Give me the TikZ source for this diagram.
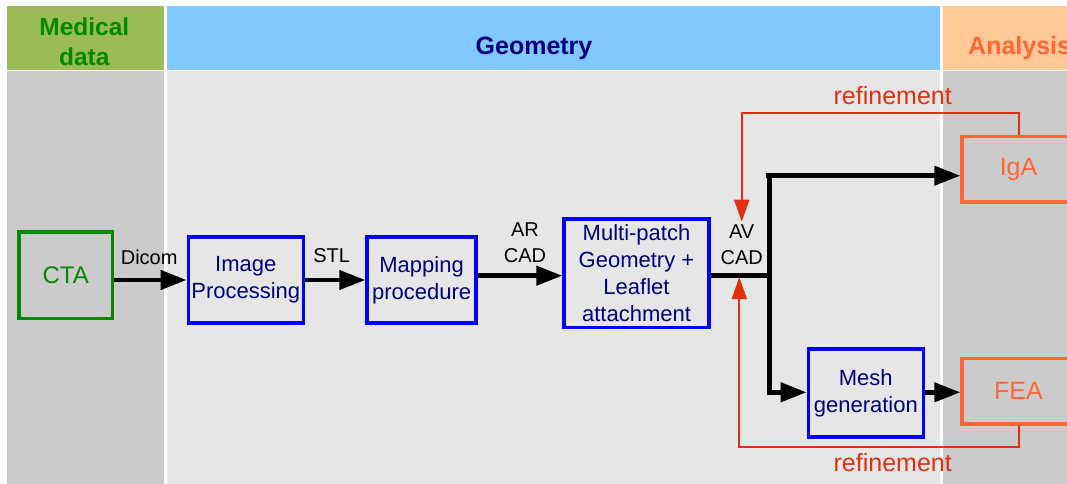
\documentclass[tikz,border=0pt]{standalone}
\usepackage{fontspec}
\setmainfont{Liberation Sans}
\usetikzlibrary{arrows.meta}
\definecolor{medhead}{HTML}{9BBB59}
\definecolor{medtext}{HTML}{008A00}
\definecolor{geohead}{HTML}{80C8FF}
\definecolor{navy}{HTML}{000080}
\definecolor{anahead}{HTML}{FFC896}
\definecolor{orng}{HTML}{FF6633}
\definecolor{refred}{HTML}{E03010}
\definecolor{darkbg}{HTML}{CBCBCB}
\definecolor{lightbg}{HTML}{E6E6E6}
\definecolor{boxblue}{HTML}{0000FF}
\definecolor{ctagreen}{HTML}{008A00}
\begin{document}
\begin{tikzpicture}[x=1pt,y=-1pt,
  procbox/.style={draw=boxblue, line width=3.5pt, text=navy, align=center, font=\fontsize{22}{27}\selectfont, inner sep=0pt},
  anabox/.style={draw=orng, line width=3.5pt, text=orng, font=\fontsize{25}{30}\selectfont, inner sep=0pt, minimum width=113pt, minimum height=65.5pt},
  flow/.style={line width=4.5pt, -{Triangle[length=26pt,width=19pt]}},
  feedback/.style={draw=refred, line width=2pt, -{Triangle[length=22pt,width=15pt]}},
  flowlabel/.style={font=\fontsize{20}{26}\selectfont, align=center, inner sep=0pt},
  reflabel/.style={text=refred, font=\fontsize{25}{30}\selectfont, inner sep=0pt},
  headlabel/.style={font=\bfseries\fontsize{25}{30}\selectfont, inner sep=0pt},
]
\useasboundingbox (0,0) rectangle (1067,484);
\clip (0,0) rectangle (1067,484);
\fill[white] (0,0) rectangle (1067,484);
% column headers and bodies
\fill[medhead] (7,6) rectangle (164,70);
\fill[geohead] (167,6) rectangle (940,70);
\fill[anahead] (943,6) rectangle (1067,70);
\fill[darkbg] (7,71) rectangle (164,484);
\fill[lightbg] (167,71) rectangle (940,484);
\fill[darkbg] (943,71) rectangle (1067,484);
\node[headlabel, text=medtext, align=center, font=\bfseries\fontsize{24.5}{30}\selectfont] (medh) at (84.3,41.3) {Medical\\data};
\node[headlabel, text=navy, anchor=base] (geoh) at (534,55) {Geometry};
\node[headlabel, text=orng, anchor=base west] (anah) at (968,55) {Analysis};
% boxes
\node[draw=ctagreen, line width=3.5pt, text=ctagreen, font=\fontsize{24}{28}\selectfont, minimum width=93.5pt, minimum height=86.7pt, inner sep=0pt] (cta) at (65.7,275.3) {CTA};
\node[procbox, minimum width=115pt, minimum height=85.8pt] (img) at (245.8,280) {Image\\Processing};
\node[procbox, minimum width=109.2pt, minimum height=85.8pt] (map) at (421.6,280) {Mapping\\procedure};
\node[procbox, minimum width=145pt, minimum height=108.3pt] (multi) at (636.5,273.2) {Multi-patch\\Geometry +\\Leaflet\\attachment};
\node[procbox, minimum width=115pt, minimum height=88pt] (mesh) at (865.8,393.2) {Mesh\\generation};
\node[anabox] (iga) at (1018.5,169.2) {IgA};
\node[anabox] (fea) at (1018.5,391) {FEA};
% labels
\node[flowlabel, anchor=base] (dicom) at (149.2,264.3) {Dicom};
\node[flowlabel, anchor=base] (stl) at (331.7,262) {STL};
\node[flowlabel] (arcad) at (525,242.9) {AR\\CAD};
\node[flowlabel] (avcad) at (741.7,245) {AV\\CAD};
\node[reflabel, anchor=base] (ref1) at (892.7,105) {refinement};
\node[reflabel, anchor=base] (ref2) at (892.7,471.7) {refinement};
% junction coordinates
\coordinate (jm) at (769.3,275.7);
\coordinate (jt) at (769.3,175.7);
\coordinate (jb) at (769.3,392.3);
\coordinate (rc1) at (741.7,112.7);
\coordinate (tipt) at (741.7,221.7);
\coordinate (rc2) at (739.3,446.7);
\coordinate (tipb) at (739.3,277);
% feedback connectors
\draw[feedback] (iga.north) |- (rc1) -- (tipt);
\draw[feedback] (fea.south) |- (rc2) -- (tipb);
% flow connectors
\draw[flow] (cta.east |- img.west) -- (img.west);
\draw[flow] (img.east) -- (map.west);
\draw[flow] (map.east |- jm) -- (multi.west |- jm);
\draw[line width=4.5pt] (multi.east |- jm) -- (jm);
\draw[flow] ([xshift=-3.5pt]jt) -- (iga.west |- jt);
\draw[flow] (jt) -- (jb) -- (mesh.west |- jb);
\draw[flow] (mesh.east |- jb) -- (fea.west |- jb);
\end{tikzpicture}
\end{document}
